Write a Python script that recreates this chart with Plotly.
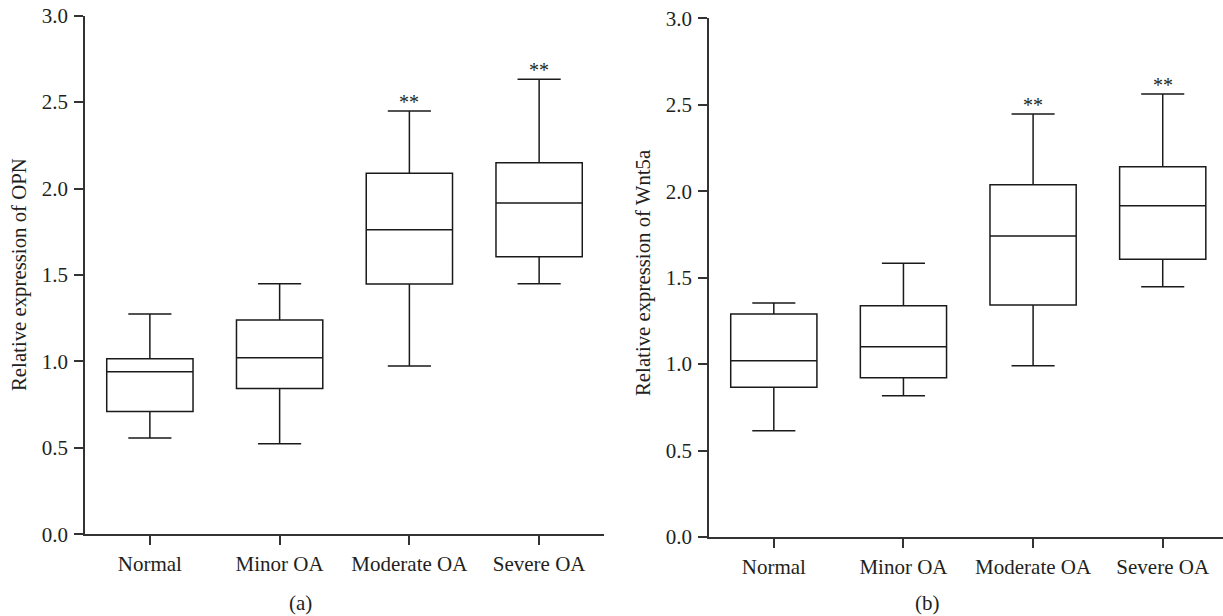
import plotly.graph_objects as go

categories = ["Normal", "Minor OA", "Moderate OA", "Severe OA"]

# Panel (a): OPN
opn_lower = [0.557, 0.524, 0.973, 1.449]
opn_q1 = [0.711, 0.844, 1.448, 1.606]
opn_median = [0.940, 1.021, 1.762, 1.916]
opn_q3 = [1.016, 1.239, 2.088, 2.149]
opn_upper = [1.274, 1.449, 2.448, 2.633]

# Panel (b): Wnt5a
wnt_lower = [0.615, 0.817, 0.991, 1.448]
wnt_q1 = [0.866, 0.921, 1.342, 1.606]
wnt_median = [1.020, 1.101, 1.741, 1.916]
wnt_q3 = [1.290, 1.338, 2.038, 2.142]
wnt_upper = [1.353, 1.583, 2.446, 2.562]

sig_marks = ["", "", "**", "**"]
y_ticks = [0.0, 0.5, 1.0, 1.5, 2.0, 2.5, 3.0]

FONT = "Liberation Serif, Times New Roman, serif"
TXT = "#231f20"
W, H = 1223, 616

fig = go.Figure()

def add_box(xax, yax, q1, med, q3, lo, hi):
    fig.add_trace(go.Box(
        x=categories, q1=q1, median=med, q3=q3,
        lowerfence=lo, upperfence=hi,
        xaxis=xax, yaxis=yax,
        width=0.665, whiskerwidth=0.5,
        fillcolor="rgba(0,0,0,0)",
        line=dict(color="#1a1a1a", width=1.5),
        boxpoints=False, showlegend=False, hoverinfo="skip",
    ))

add_box("x", "y", opn_q1, opn_median, opn_q3, opn_lower, opn_upper)
add_box("x2", "y2", wnt_q1, wnt_median, wnt_q3, wnt_lower, wnt_upper)

axis_common = dict(
    showline=True, linecolor="#333333", linewidth=1.5,
    ticks="outside", ticklen=9, tickwidth=1.5, tickcolor="#333333",
    showgrid=False, zeroline=False, automargin=False,
    tickfont=dict(family=FONT, size=21, color=TXT),
)

fig.update_layout(
    width=W, height=H,
    margin=dict(l=0, r=0, t=0, b=0),
    paper_bgcolor="white", plot_bgcolor="white",
    font=dict(family=FONT, color=TXT, size=21),
    xaxis=dict(domain=[85 / W, 604 / W], range=[-0.5, 3.5], anchor="y",
               type="category", ticklabelstandoff=1, **axis_common),
    yaxis=dict(domain=[(H - 534.3) / H, (H - 15.7) / H], range=[0, 3], anchor="x",
               tickvals=y_ticks, tickformat=".1f", ticklabelstandoff=2, **axis_common),
    xaxis2=dict(domain=[709 / W, 1.0], range=[-0.5, 3.465], anchor="y2",
                type="category", ticklabelstandoff=1, **axis_common),
    yaxis2=dict(domain=[(H - 537) / H, (H - 18.3) / H], range=[0, 3], anchor="x2",
                tickvals=y_ticks, tickformat=".1f", ticklabelstandoff=2, **axis_common),
)

annotations = []
for xr, yr, ups in (("x", "y", opn_upper), ("x2", "y2", wnt_upper)):
    for c, u, s in zip(categories, ups, sig_marks):
        if s:
            annotations.append(dict(
                x=c, y=u, xref=xr, yref=yr, text=s, showarrow=False,
                xanchor="center", yanchor="bottom", yshift=-4,
                font=dict(family=FONT, size=20, color=TXT),
            ))

annotations += [
    dict(x=19 / W, y=(H - 275) / H, xref="paper", yref="paper",
         xanchor="center", yanchor="middle",
         text="Relative expression of OPN", textangle=-90, showarrow=False,
         font=dict(family=FONT, size=20.8, color=TXT)),
    dict(x=643 / W, y=(H - 273) / H, xref="paper", yref="paper",
         xanchor="center", yanchor="middle",
         text="Relative expression of Wnt5a", textangle=-90, showarrow=False,
         font=dict(family=FONT, size=20.8, color=TXT)),
    dict(x=300 / W, y=(H - 603) / H, xref="paper", yref="paper",
         xanchor="center", yanchor="middle",
         text="(a)", showarrow=False, font=dict(family=FONT, size=21, color=TXT)),
    dict(x=927 / W, y=(H - 603) / H, xref="paper", yref="paper",
         xanchor="center", yanchor="middle",
         text="(b)", showarrow=False, font=dict(family=FONT, size=21, color=TXT)),
]
fig.update_layout(annotations=annotations)

fig.write_html("out.html")
